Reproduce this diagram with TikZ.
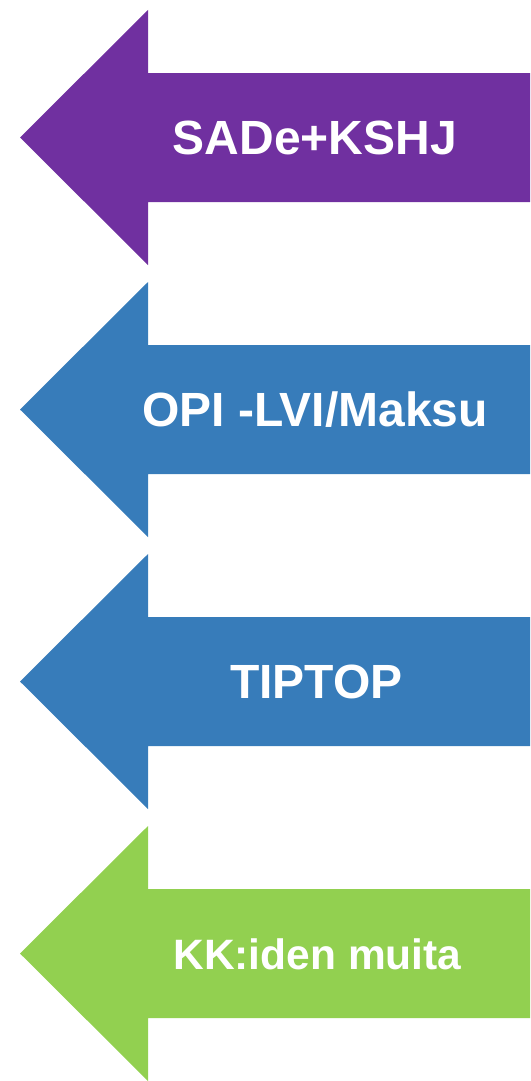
\documentclass[tikz,border=0pt]{standalone}
\usepackage{fontspec}
\setmainfont{Liberation Sans}
\definecolor{apurple}{RGB}{112,48,160}
\definecolor{ablue}{RGB}{55,124,186}
\definecolor{agreen}{RGB}{146,208,80}
\tikzset{
  lbl/.style={text=white,font=\bfseries\fontsize{48}{52}\selectfont,anchor=base,inner sep=0pt},
  lblsmall/.style={lbl,font=\bfseries\fontsize{42.5}{46}\selectfont}
}
\newcommand{\leftarrowat}[2]{%
  \fill[#2] (20,#1+127.5) -- (148,#1) -- (148,#1+63) -- (530,#1+63) -- (530,#1+192) -- (148,#1+192) -- (148,#1+255) -- cycle;}
\begin{document}
\begin{tikzpicture}[x=1pt,y=-1pt]
\useasboundingbox (0,0) rectangle (530,1081);
\leftarrowat{10}{apurple}
\leftarrowat{282}{ablue}
\leftarrowat{554}{ablue}
\leftarrowat{826}{agreen}
\node[lbl] (t1) at (315,154.8) {SADe+KSHJ};
\node[lbl] (t2) at (315,426.8) {OPI -LVI/Maksu};
\node[lbl] (t3) at (316.5,698.8) {TIPTOP};
\node[lblsmall] (t4) at (317.5,969) {KK:iden muita};
\end{tikzpicture}
\end{document}
